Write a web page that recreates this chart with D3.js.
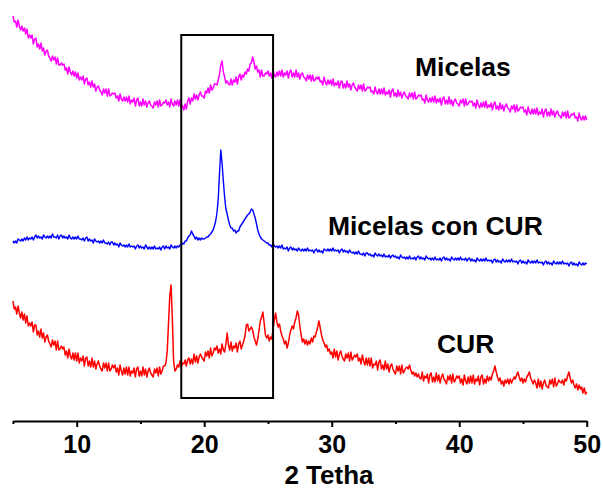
<!DOCTYPE html>
<html>
<head>
<meta charset="utf-8">
<script src="https://cdn.jsdelivr.net/npm/d3@7"></script>
<style>
  html, body { margin: 0; padding: 0; background: #ffffff; }
  svg { display: block; }
  text { font-family: Arial, "Liberation Sans", Helvetica, sans-serif; font-weight: bold; fill: #000; }
</style>
</head>
<body>
<svg id="chart" width="603" height="491"></svg>
<script>
// XRD scan grid (2θ, degrees)
const scanStart = 5;
const scanStep = 0.1;

// Intensities (a.u., patterns stacked with offset), one row per degree (5°..49.9°), plus 50°
const micelas = [
  405, 399, 400, 394, 401, 395, 391, 395, 390, 393,
  387, 392, 383, 386, 383, 386, 377, 382, 383, 374,
  377, 372, 378, 370, 373, 366, 370, 371, 365, 363,
  360, 365, 361, 364, 357, 363, 356, 356, 358, 356,
  357, 351, 353, 347, 354, 349, 346, 350, 345, 349,
  343, 348, 341, 344, 341, 345, 337, 342, 343, 336,
  339, 334, 340, 334, 337, 330, 334, 335, 331, 329,
  326, 332, 328, 332, 325, 332, 325, 326, 328, 327,
  328, 323, 325, 320, 327, 322, 320, 324, 320, 324,
  319, 325, 317, 321, 319, 323, 315, 321, 323, 315,
  319, 315, 322, 316, 320, 314, 318, 320, 316, 315,
  313, 319, 316, 320, 314, 321, 315, 316, 319, 318,
  321, 316, 319, 314, 322, 317, 315, 320, 316, 321,
  315, 321, 313, 315, 311, 317, 312, 320, 323, 317,
  323, 320, 327, 322, 326, 321, 326, 329, 325, 325,
  323, 330, 328, 333, 328, 336, 331, 333, 337, 337,
  336, 341, 347, 356, 360, 349, 344, 338, 340, 337,
  336, 342, 336, 341, 339, 344, 337, 344, 347, 341,
  346, 344, 349, 347, 352, 350, 357, 358, 364, 359,
  352, 355, 349, 351, 344, 351, 345, 345, 348, 347,
  350, 345, 348, 343, 351, 346, 344, 349, 345, 350,
  345, 351, 344, 348, 346, 350, 343, 349, 351, 344,
  348, 344, 351, 344, 348, 342, 347, 348, 344, 343,
  340, 346, 342, 346, 340, 346, 340, 341, 344, 342,
  344, 339, 340, 336, 344, 339, 336, 341, 337, 341,
  336, 342, 335, 338, 336, 340, 333, 339, 340, 333,
  337, 333, 340, 334, 337, 331, 336, 338, 334, 332,
  330, 336, 332, 336, 330, 337, 330, 331, 334, 333,
  334, 329, 330, 327, 334, 329, 327, 332, 327, 332,
  327, 333, 326, 329, 327, 331, 324, 330, 332, 325,
  328, 324, 331, 325, 329, 323, 327, 329, 325, 324,
  322, 328, 324, 328, 322, 329, 322, 323, 326, 325,
  326, 321, 322, 318, 326, 321, 319, 323, 319, 324,
  319, 325, 318, 322, 319, 323, 316, 322, 324, 317,
  321, 317, 324, 317, 321, 315, 320, 322, 318, 317,
  315, 321, 318, 322, 315, 322, 316, 317, 320, 319,
  320, 315, 318, 313, 321, 316, 313, 318, 314, 319,
  314, 320, 313, 316, 314, 318, 311, 317, 319, 312,
  315, 311, 318, 312, 316, 310, 315, 317, 313, 312,
  309, 315, 312, 316, 309, 316, 310, 311, 314, 313,
  314, 309, 311, 306, 314, 309, 307, 312, 307, 312,
  307, 313, 306, 309, 307, 312, 304, 310, 312, 305,
  309, 305, 312, 306, 310, 304, 308, 310, 306, 305,
  303, 309, 305, 309, 303, 310, 303, 304, 307, 306,
  308, 303, 304, 300, 308, 303, 301, 305, 301, 305,
  301
];

const micelasCUR = [
  180, 178, 180, 178, 182, 181, 180, 182, 180, 183,
  181, 184, 181, 183, 182, 184, 181, 184, 186, 183,
  185, 183, 184, 182, 186, 184, 183, 185, 183, 185,
  183, 187, 184, 184, 183, 186, 182, 185, 186, 183,
  185, 183, 184, 182, 186, 183, 182, 184, 182, 184,
  182, 185, 182, 182, 181, 183, 180, 183, 184, 180,
  182, 180, 181, 178, 182, 180, 179, 180, 178, 180,
  178, 181, 178, 178, 177, 179, 176, 179, 179, 176,
  178, 176, 177, 174, 178, 176, 175, 176, 174, 176,
  174, 177, 174, 175, 174, 175, 172, 175, 176, 173,
  175, 173, 174, 172, 176, 174, 172, 174, 172, 174,
  172, 175, 172, 173, 172, 174, 171, 174, 175, 172,
  175, 173, 174, 172, 176, 174, 173, 175, 173, 175,
  174, 176, 176, 178, 177, 180, 180, 183, 185, 186,
  190, 187, 185, 182, 184, 181, 183, 181, 183, 182,
  182, 183, 184, 184, 186, 187, 189, 191, 195, 200,
  208, 222, 248, 271, 258, 240, 224, 212, 207, 201,
  196, 193, 193, 190, 191, 188, 190, 190, 194, 196,
  198, 200, 202, 204, 206, 207, 209, 212, 211, 207,
  203, 197, 191, 187, 184, 182, 181, 180, 179, 178,
  178, 176, 176, 174, 178, 175, 174, 175, 173, 175,
  173, 176, 172, 173, 172, 174, 170, 173, 174, 171,
  173, 171, 172, 170, 173, 171, 170, 172, 170, 172,
  170, 173, 170, 171, 170, 171, 168, 171, 172, 169,
  171, 169, 170, 168, 172, 171, 170, 172, 170, 172,
  170, 173, 170, 171, 170, 171, 168, 171, 172, 169,
  171, 169, 170, 168, 171, 169, 168, 169, 167, 169,
  167, 170, 167, 167, 166, 168, 165, 168, 168, 166,
  167, 165, 166, 164, 168, 166, 165, 167, 165, 166,
  164, 167, 164, 165, 164, 166, 163, 165, 166, 164,
  165, 163, 164, 162, 166, 164, 163, 164, 162, 164,
  162, 165, 162, 163, 162, 164, 161, 164, 165, 162,
  164, 162, 163, 161, 165, 163, 162, 163, 161, 163,
  161, 164, 161, 162, 161, 163, 160, 163, 164, 161,
  163, 161, 162, 160, 164, 162, 161, 163, 161, 163,
  161, 164, 161, 162, 161, 163, 160, 162, 163, 160,
  162, 160, 161, 159, 163, 161, 160, 162, 160, 162,
  160, 163, 160, 161, 160, 161, 158, 161, 162, 159,
  161, 159, 160, 158, 162, 160, 159, 161, 159, 161,
  159, 162, 159, 160, 159, 160, 157, 160, 161, 158,
  160, 158, 159, 157, 161, 159, 158, 160, 158, 160,
  158, 161, 158, 159, 158, 159, 156, 159, 160, 157,
  159, 157, 158, 156, 160, 158, 157, 159, 157, 159,
  157, 160, 157, 158, 157, 158, 155, 158, 159, 156,
  158, 156, 157, 155, 159, 157, 156, 158, 156, 158,
  157
];

const cur = [
  120, 112, 114, 107, 115, 108, 103, 109, 101, 107,
   98, 105,  95,  98,  95,  99,  89,  96,  96,  86,
   90,  84,  92,  83,  88,  79,  84,  86,  80,  77,
   74,  81,  76,  80,  71,  80,  71,  72,  75,  72,
   74,  66,  70,  63,  72,  65,  62,  68,  61,  68,
   60,  68,  58,  63,  60,  65,  55,  63,  64,  55,
   60,  54,  63,  54,  60,  52,  57,  60,  55,  52,
   50,  58,  53,  58,  50,  58,  50,  52,  56,  53,
   56,  49,  53,  46,  56,  50,  46,  53,  47,  54,
   46,  54,  45,  50,  48,  53,  44,  52,  54,  45,
   50,  45,  54,  46,  52,  44,  50,  53,  48,  46,
   44,  52,  48,  53,  45,  54,  47,  50,  55,  55,
   58,  70,  98, 125, 136, 102,  60,  50,  52,  56,
   54,  60,  54,  58,  57,  61,  55,  61,  63,  57,
   62,  57,  67,  59,  65,  58,  64,  67,  64,  62,
   60,  69,  65,  70,  63,  73,  65,  68,  73,  71,
   75,  68,  72,  67,  77,  71,  69,  77,  88,  76,
   71,  79,  70,  75,  73,  78,  69,  77,  80,  72,
   76,  80,  85,  96,  97,  90,  92,  94,  91,  84,
   80,  76,  82,  91, 100, 104, 109,  98,  86,  83,
   86,  80,  84,  82,  92, 101, 108,  99,  94,  97,
   90,  85,  82,  77,  80,  73,  78,  86,  91,  95,
   92,  99, 103, 110, 106,  95,  86,  79,  82,  77,
   81,  76,  80,  77,  83,  79,  85,  84,  89,  94,
  100,  93,  86,  81,  78,  74,  76,  70,  72,  67,
   69,  63,  72,  64,  70,  61,  67,  70,  65,  62,
   60,  67,  63,  68,  60,  69,  61,  63,  66,  64,
   67,  60,  63,  57,  66,  60,  56,  63,  56,  63,
   55,  63,  53,  57,  56,  60,  51,  59,  61,  52,
   56,  51,  60,  52,  57,  49,  55,  57,  52,  49,
   47,  55,  50,  55,  47,  56,  48,  50,  53,  54,
   52,  56,  51,  47,  49,  45,  48,  44,  47,  43,
   42,  49,  40,  45,  43,  47,  38,  46,  48,  39,
   44,  39,  48,  40,  46,  38,  44,  47,  42,  40,
   37,  45,  41,  46,  38,  47,  39,  41,  45,  43,
   45,  38,  42,  36,  46,  40,  37,  44,  38,  45,
   38,  46,  37,  42,  40,  45,  36,  44,  46,  37,
   42,  38,  45,  40,  44,  41,  47,  50,  55,  49,
   44,  40,  43,  37,  40,  35,  41,  38,  42,  37,
   42,  38,  41,  44,  42,  46,  49,  44,  40,  43,
   38,  42,  39,  44,  46,  49,  43,  40,  37,  41,
   38,  33,  42,  34,  40,  32,  38,  41,  36,  34,
   33,  41,  37,  42,  34,  43,  35,  37,  41,  39,
   38,  41,  36,  42,  40,  45,  49,  43,  38,  41,
   36,  33,  37,  31,  36,  32,  34,  28,  33,  27,
   29
];

const seriesNames = ["Micelas", "Micelas con CUR", "CUR"];
const seriesValues = [micelas, micelasCUR, cur];

// Axis ticks
const majorTicks = [10, 20, 30, 40, 50];
const minorTicks = [5, 15, 25, 35, 45];
const xDomain = [5, 50];
const yDomain = [0, 400];

// Highlighted 2θ window
const windowRange = [18.2, 25.4];
const windowIntensity = [23, 386];

// ---- drawing ----
const lineColors = ["#ff00ff", "#0000ff", "#ff0000"];
const lineWidths = [1.5, 1.4, 1.5];

const svg = d3.select("#chart");

const x = d3.scaleLinear().domain(xDomain).range([12.95, 586.75]);
const y = d3.scaleLinear().domain(yDomain).range([421, 21]);

const line = d3.line()
  .x((d, i) => x(scanStart + i * scanStep))
  .y(d => y(d));

const plot = svg.append("g");

seriesValues.forEach((vals, k) => {
  plot.append("path")
    .datum(vals)
    .attr("fill", "none")
    .attr("stroke", lineColors[k])
    .attr("stroke-width", lineWidths[k])
    .attr("stroke-linejoin", "round")
    .attr("d", line);
});

// highlight box
plot.append("rect")
  .attr("x", x(windowRange[0]))
  .attr("y", y(windowIntensity[1]))
  .attr("width", x(windowRange[1]) - x(windowRange[0]))
  .attr("height", y(windowIntensity[0]) - y(windowIntensity[1]))
  .attr("fill", "none")
  .attr("stroke", "#000")
  .attr("stroke-width", 2);

// series labels
const labelPos = [
  { x: 36.53, v: 345 },
  { x: 29.7, v: 186 },
  { x: 38.25, v: 68 }
];
seriesNames.forEach((name, k) => {
  svg.append("text")
    .attr("x", x(labelPos[k].x))
    .attr("y", y(labelPos[k].v))
    .attr("font-size", "26.5px")
    .text(name);
});

// x axis: minor ticks, then major ticks with labels
const minorAxis = d3.axisBottom(x).tickValues(minorTicks).tickSize(3).tickSizeOuter(0).tickFormat("");
const majorAxis = d3.axisBottom(x).tickValues(majorTicks).tickSize(6).tickSizeOuter(0).tickPadding(7);

const gMinor = svg.append("g").attr("transform", "translate(0,421)").call(minorAxis);
gMinor.select(".domain").attr("stroke-width", 2.2).attr("stroke", "#000");
gMinor.selectAll(".tick line").attr("stroke-width", 2).attr("stroke", "#000");

const gMajor = svg.append("g").attr("transform", "translate(0,421)").call(majorAxis);
gMajor.select(".domain").remove();
gMajor.selectAll(".tick line").attr("stroke-width", 2).attr("stroke", "#000");
gMajor.selectAll(".tick text")
  .attr("font-family", "Arial, 'Liberation Sans', sans-serif")
  .attr("font-weight", "bold")
  .attr("font-size", "25px")
  .attr("fill", "#000")
  .attr("dy", null)
  .attr("y", 32);

svg.append("text")
  .attr("x", 329)
  .attr("y", 484)
  .attr("text-anchor", "middle")
  .attr("font-size", "26px")
  .text("2 Tetha");
</script>
</body>
</html>
